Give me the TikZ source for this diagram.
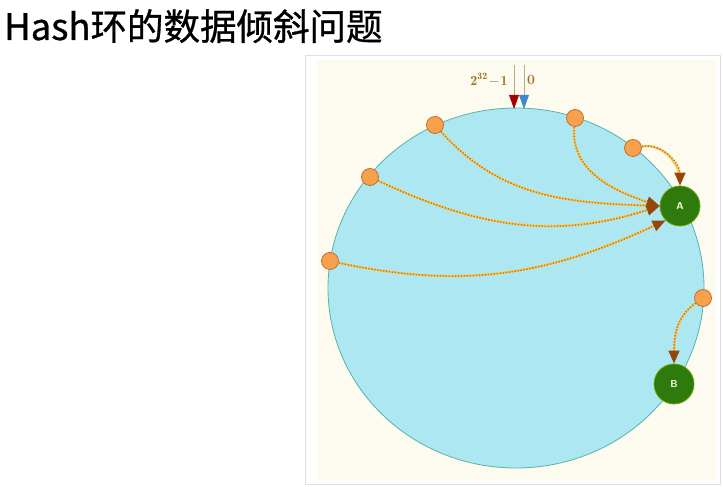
\documentclass[tikz,border=0pt]{standalone}
\usepackage{fontspec}
\newfontfamily\cjk[FakeBold=0.8]{Noto Sans CJK SC}
\usetikzlibrary{arrows.meta}
\definecolor{ringfill}{RGB}{173,232,242}
\definecolor{ringline}{RGB}{85,181,168}
\definecolor{cream}{RGB}{253,251,240}
\definecolor{dotfill}{RGB}{248,161,76}
\definecolor{dotline}{RGB}{198,111,44}
\definecolor{servfill}{RGB}{47,122,12}
\definecolor{linkcol}{RGB}{190,125,40}
\definecolor{linkband}{RGB}{250,205,90}
\definecolor{tipcol}{RGB}{150,70,10}
\definecolor{labcol}{RGB}{160,118,40}
\begin{document}
\begin{tikzpicture}[
        x=1pt, y=1pt,
        key/.style={circle, draw=dotline, fill=dotfill, line width=0.8pt, minimum size=17pt, inner sep=0pt},
        server/.style={circle, draw=servfill!70!yellow, fill=servfill, line width=0.8pt, minimum size=40pt, inner sep=0pt, font=\sffamily\bfseries\fontsize{10}{12}\selectfont, text=yellow!15},
        link/.style={draw=linkcol, line width=1.5pt, dash pattern=on 1.5pt off 1.5pt,
            preaction={draw=linkband, line width=2.4pt, solid, -, shorten >=6pt},
            -{Triangle[length=13pt, width=11pt, color=tipcol]}},
        zeroline/.style={draw=olive!40!gray!70, line width=0.8pt},
        lab/.style={text=labcol, font=\bfseries\fontsize{14}{16}\selectfont}
    ]
        \useasboundingbox (0,0) rectangle (723,487);

        % Title
        \node[anchor=base west, inner sep=0pt, font=\cjk\fontsize{36.5}{42}\selectfont] (title) at (4,447) {Hash环的数据倾斜问题};

        % Frame and ring
        \draw[gray!25, fill=white] (305,3) rectangle (720,432);
        \fill[cream] (317,7) rectangle (716,427);
        \draw[ringline, fill=ringfill, line width=0.8pt] (516,199) ellipse [x radius=188, y radius=180];

        % Start of the ring
        \coordinate (top1) at (514,422);
        \coordinate (top0) at (524,422);
        \coordinate (end1) at (514,378);
        \coordinate (end0) at (524,378);
        \draw[zeroline] (top1) -- (end1);
        \draw[zeroline] (top0) -- (end0);
        \fill[red!65!black] (end1) -- ++(-5,14) -- ++(10,0) -- cycle;
        \fill[cyan!55!blue!80] (end0) -- ++(-5,14) -- ++(10,0) -- cycle;
        \node[lab] (lmax) at (489,407) {$\mathbf{2^{32}\!-\!1}$};
        \node[lab] (lzero) at (531,407) {0};

        % Keys
        \node[key] (k1) at (435,362) {};
        \node[key] (k2) at (575,369) {};
        \node[key] (k3) at (633,339) {};
        \node[key] (k4) at (370,310) {};
        \node[key] (k5) at (330,226) {};
        \node[key] (k6) at (703,189) {};

        % Servers
        \node[server] (A) at (680,281) {A};
        \node[server] (B) at (674,103) {B};

        % Arrows
        \draw[link] (k1) to[out=-48, in=178] (A.west);
        \draw[link] (k4) to[out=-25, in=198] (A.west);
        \draw[link] (k2) to[out=-95, in=162] (A.west);
        \draw[link] (k3) to[out=10, in=90] (A.north);
        \draw[link] (k5) to[out=-12, in=205] (A.south west);
        \draw[link] (k6) to[out=-145, in=90] (B.north);

    \end{tikzpicture}
\end{document}
